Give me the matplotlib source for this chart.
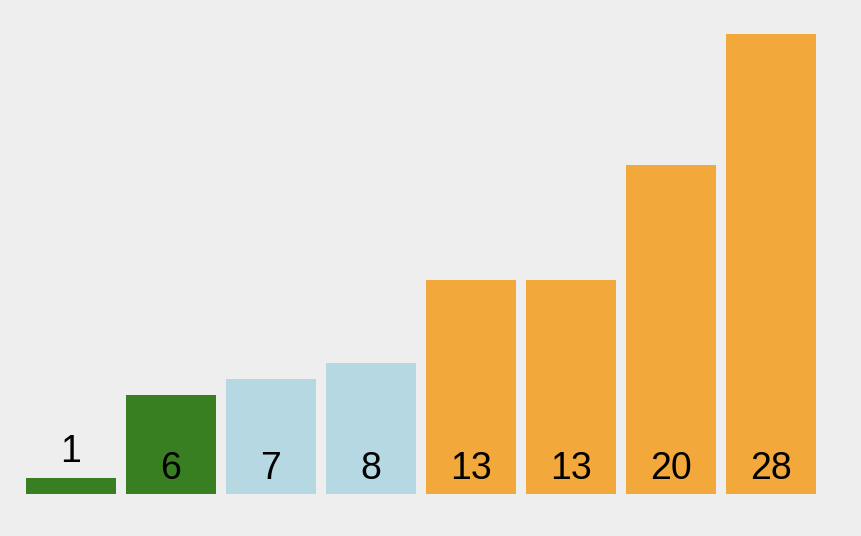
import matplotlib.pyplot as plt

# bar values and their colour group
values = [1, 6, 7, 8, 13, 13, 20, 28]
groups = ["low", "low", "mid", "mid", "high", "high", "high", "high"]
group_colors = {"low": "#387f22", "mid": "#b5d8e3", "high": "#f2a83b"}

fig = plt.figure(figsize=(8.62, 5.36), dpi=100)
fig.patch.set_facecolor("#eeeeee")
ax = fig.add_axes([26 / 862, 42 / 536, 790 / 862, 460 / 536])
ax.set_facecolor("#eeeeee")

x = list(range(len(values)))
cols = [group_colors[g] for g in groups]
ax.bar(x, values, width=0.9, color=cols)

ax.set_xlim(-0.45, len(values) - 0.55)
ax.set_ylim(0, max(values))
ax.axis("off")

# labels sit inside the bar near the bottom, or above it if the bar is too short
px_per_unit = 460 / max(values)
for xi, v in zip(x, values):
    if v * px_per_unit > 30:
        ax.annotate(str(v), (xi, 0), xytext=(0, 15), textcoords="offset pixels",
                    ha="center", va="baseline", fontsize=27,
                    family="Liberation Sans", annotation_clip=False)
    else:
        ax.annotate(str(v), (xi, v), xytext=(0, 16), textcoords="offset pixels",
                    ha="center", va="baseline", fontsize=27,
                    family="Liberation Sans", annotation_clip=False)

fig.savefig("out.png", dpi=100, facecolor=fig.get_facecolor())
